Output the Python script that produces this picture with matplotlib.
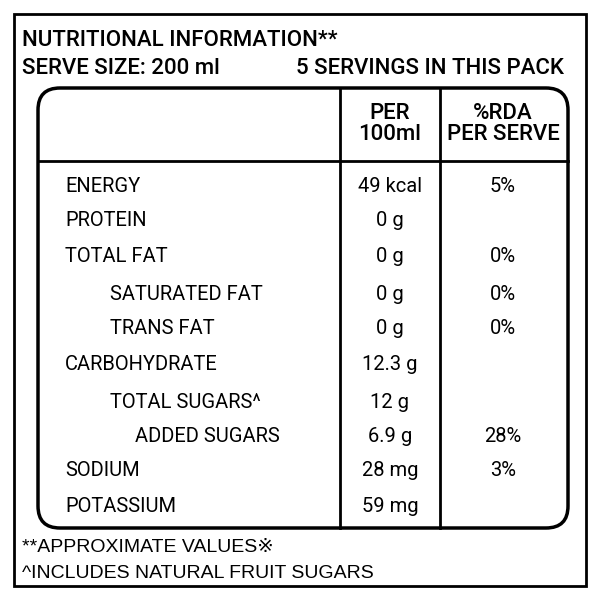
import matplotlib
matplotlib.use("Agg")
import matplotlib.pyplot as plt
from matplotlib.patches import FancyBboxPatch, Rectangle

plt.rcParams['font.family'] = ['Roboto', 'DejaVu Sans']

nutrients = ["ENERGY", "PROTEIN", "TOTAL FAT", "SATURATED FAT", "TRANS FAT",
             "CARBOHYDRATE", "TOTAL SUGARS^", "ADDED SUGARS", "SODIUM", "POTASSIUM"]
indent = [0, 0, 0, 1, 1, 0, 1, 2, 0, 0]
per_100ml = ["49 kcal", "0 g", "0 g", "0 g", "0 g", "12.3 g", "12 g", "6.9 g", "28 mg", "59 mg"]
rda = ["5%", "", "0%", "0%", "0%", "", "", "28%", "3%", ""]
row_y = [186, 221, 257, 294, 328, 364, 402, 437, 470, 506]
indent_x = [65, 110, 135]

fig = plt.figure(figsize=(6, 6), dpi=100)
ax = fig.add_axes([0, 0, 1, 1])
ax.set_xlim(0, 600); ax.set_ylim(600, 0); ax.axis('off')

ax.add_patch(Rectangle((14, 14), 572, 572, fill=False, lw=2, color='black'))
ax.add_patch(FancyBboxPatch((38, 88), 530, 440, boxstyle="round,pad=0,rounding_size=22",
                            fill=False, lw=2.5, ec='black'))
ax.plot([340, 340], [88, 528], color='black', lw=2)
ax.plot([440, 440], [88, 528], color='black', lw=2)
ax.plot([38, 568], [161, 161], color='black', lw=2)

fs = 14.5
ax.text(22, 40, "NUTRITIONAL INFORMATION**", fontsize=16, va='center', ha='left', weight='medium')
ax.text(22, 68, "SERVE SIZE: 200 ml", fontsize=16, va='center', ha='left', weight='medium')
ax.text(564, 68, "5 SERVINGS IN THIS PACK", fontsize=16, va='center', ha='right', weight='medium')
ax.text(390, 124, "PER\n100ml", fontsize=16, va='center', ha='center', linespacing=1.0, weight='medium')
ax.text(503, 124, "%RDA\nPER SERVE", fontsize=16, va='center', ha='center', linespacing=1.0, weight='medium')

for n, ind, p, r, y in zip(nutrients, indent, per_100ml, rda, row_y):
    ax.text(indent_x[ind], y, n, fontsize=fs, va='center', ha='left')
    ax.text(390, y, p, fontsize=fs, va='center', ha='center')
    if r:
        ax.text(503, y, r, fontsize=fs, va='center', ha='center')

ax.text(22, 548, "**APPROXIMATE VALUES\u203b", fontsize=14, va='center', ha='left',
        family=['Liberation Sans', 'DejaVu Sans'])
ax.text(22, 573, "^INCLUDES NATURAL FRUIT SUGARS", fontsize=14, va='center', ha='left',
        family=['Liberation Sans', 'DejaVu Sans'])
fig.savefig("out.png", dpi=100, facecolor='white')
